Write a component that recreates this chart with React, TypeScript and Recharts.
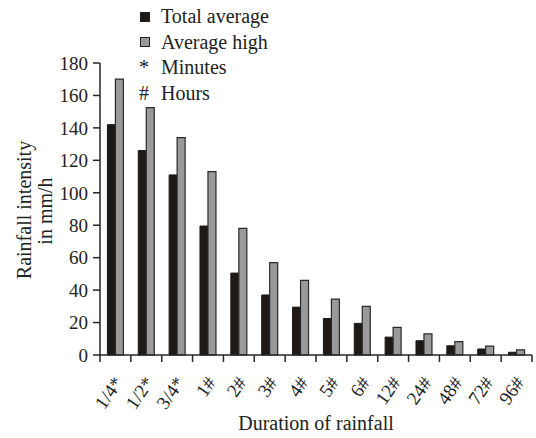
import React from "react";
import {
  BarChart,
  Bar,
  XAxis,
  YAxis,
  Legend,
} from "recharts";

const durations = [
  "1/4*", "1/2*", "3/4*", "1#", "2#", "3#", "4#",
  "5#", "6#", "12#", "24#", "48#", "72#", "96#",
];
const totalAverage = [142, 126, 111, 79.5, 50.5, 37, 29.5, 22.5, 19.5, 11, 8.8, 5.7, 3.7, 1.7];
const averageHigh = [170, 152.5, 134, 113, 78, 57, 46, 34.5, 30, 17, 13, 8.2, 5.5, 3.1];
const yTicks = [0, 20, 40, 60, 80, 100, 120, 140, 160, 180];

const legendItems = [
  { mark: "box", color: "#1d1917", label: "Total average" },
  { mark: "box", color: "#9a9a9a", label: "Average high" },
  { mark: "*", color: "#222", label: "Minutes" },
  { mark: "#", color: "#222", label: "Hours" },
];

const data = durations.map((d, i) => ({
  duration: d,
  total: totalAverage[i],
  high: averageHigh[i],
}));

const W = 536;
const H = 438;
const MARGIN = { top: 63, right: 4, left: 0, bottom: 0 };
const Y_AXIS_W = 100;
const X_AXIS_H = 83;
const BAND = (W - MARGIN.left - MARGIN.right - Y_AXIS_W) / durations.length;

const FONT = "Liberation Serif";
const INK = "#262626";

// boundary tick marks between categories plus the rotated duration label
const DurationTick = (props: any) => {
  const { x, y, payload, index } = props;
  const lx = x + 3;
  const ly = y + 24;
  return (
    <g>
      <line x1={x - BAND / 2} y1={y} x2={x - BAND / 2} y2={y + 7} stroke={INK} strokeWidth={1.5} />
      {index === durations.length - 1 && (
        <line x1={x + BAND / 2} y1={y} x2={x + BAND / 2} y2={y + 7} stroke={INK} strokeWidth={1.5} />
      )}
      <text
        x={lx}
        y={ly}
        transform={`rotate(-55, ${lx}, ${ly})`}
        textAnchor="end"
        dominantBaseline="central"
        style={{ fontFamily: FONT, fontSize: 19 }}
        fill="#222"
      >
        {payload.value}
      </text>
    </g>
  );
};

const IntensityLabel = () => (
  <g style={{ fontFamily: FONT, fontSize: 20 }} fill="#222">
    <text x={24} y={210} transform="rotate(-90, 24, 210)" textAnchor="middle" dominantBaseline="central">
      Rainfall intensity
    </text>
    <text x={45} y={211} transform="rotate(-90, 45, 211)" textAnchor="middle" dominantBaseline="central">
      in mm/h
    </text>
  </g>
);

const KeyContent = () => (
  <div style={{ fontFamily: FONT, fontSize: 20, color: "#222", lineHeight: "25.5px" }}>
    {legendItems.map((it) => (
      <div key={it.label} style={{ display: "flex", alignItems: "center", whiteSpace: "nowrap" }}>
        <span style={{ width: 22, display: "inline-flex", alignItems: "center" }}>
          {it.mark === "box" ? (
            <span
              style={{
                display: "inline-block",
                width: 8,
                height: 8,
                background: it.color,
                border: "1px solid #222",
                marginLeft: 1,
              }}
            />
          ) : (
            <span>{it.mark}</span>
          )}
        </span>
        <span>{it.label}</span>
      </div>
    ))}
  </div>
);

export default function App() {
  return (
    <div style={{ position: "absolute", left: 0, top: 0, width: W, height: H, background: "white", fontFamily: FONT }}>
      <BarChart
        width={W}
        height={H}
        data={data}
        margin={MARGIN}
        barCategoryGap="24%"
        barGap={0}
        style={{ fontFamily: FONT }}
      >
        <XAxis
          dataKey="duration"
          height={X_AXIS_H}
          interval={0}
          tickLine={false}
          tickSize={0}
          tickMargin={0}
          tick={<DurationTick />}
          axisLine={{ stroke: INK, strokeWidth: 1.5 }}
          label={{
            value: "Duration of rainfall",
            position: "insideBottom",
            offset: 8,
            style: { fontFamily: FONT, fontSize: 20 },
            fill: "#222",
          }}
        />
        <YAxis
          width={Y_AXIS_W}
          domain={[0, 180]}
          ticks={yTicks}
          interval={0}
          tickSize={7}
          tickMargin={5}
          tick={{ style: { fontFamily: FONT, fontSize: 19 }, fill: "#222" }}
          tickLine={{ stroke: INK, strokeWidth: 1.5 }}
          axisLine={{ stroke: INK, strokeWidth: 1.5 }}
          label={<IntensityLabel />}
        />
        <Legend
          layout="vertical"
          align="center"
          verticalAlign="middle"
          content={<KeyContent />}
          wrapperStyle={{ left: 139, top: 4, width: 200, height: 104 }}
        />
        <Bar dataKey="total" name="Total average" fill="#1d1917" stroke="#1d1917" strokeWidth={1} isAnimationActive={false} />
        <Bar dataKey="high" name="Average high" fill="#9a9a9a" stroke="#2a2a2a" strokeWidth={1.2} isAnimationActive={false} />
      </BarChart>
    </div>
  );
}
